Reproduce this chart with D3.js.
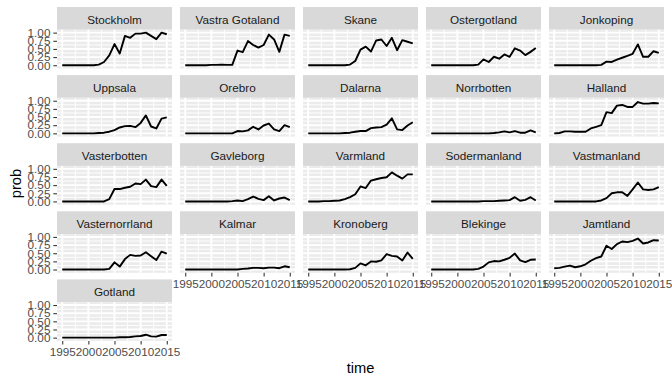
<!DOCTYPE html>
<html>
<head>
<meta charset="utf-8">
<script src="https://cdnjs.cloudflare.com/ajax/libs/d3/7.8.5/d3.min.js"></script>
<style>
  body { margin: 0; background: #fff; }
  svg text { font-family: "Liberation Sans", Arial, sans-serif; }
</style>
</head>
<body>
<svg id="chart" width="672" height="384"></svg>
<script>

// years on the x axis
var years = [1995, 1996, 1997, 1998, 1999, 2000, 2001, 2002, 2003, 2004, 2005,
             2006, 2007, 2008, 2009, 2010, 2011, 2012, 2013, 2014, 2015];

var regions = ["Stockholm", "Vastra Gotaland", "Skane", "Ostergotland", "Jonkoping",
               "Uppsala", "Orebro", "Dalarna", "Norrbotten", "Halland",
               "Vasterbotten", "Gavleborg", "Varmland", "Sodermanland", "Vastmanland",
               "Vasternorrland", "Kalmar", "Kronoberg", "Blekinge", "Jamtland",
               "Gotland"];

// prob per year
var stockholm      = [0, 0, 0, 0, 0, 0, 0, 0.02, 0.10, 0.30, 0.65, 0.36, 0.90, 0.84, 0.97, 0.97, 1.00, 0.90, 0.80, 1.00, 0.95];
var vastraGotaland = [0, 0, 0, 0, 0, 0.01, 0.01, 0.02, 0.01, 0.01, 0.45, 0.40, 0.74, 0.62, 0.54, 0.62, 0.94, 0.79, 0.41, 0.94, 0.90];
var skane          = [0, 0, 0, 0, 0, 0, 0, 0, 0.02, 0.13, 0.48, 0.57, 0.42, 0.76, 0.79, 0.59, 0.84, 0.46, 0.77, 0.72, 0.67];
var ostergotland   = [0, 0, 0, 0, 0, 0, 0, 0, 0, 0.02, 0.18, 0.10, 0.26, 0.20, 0.33, 0.26, 0.52, 0.45, 0.31, 0.41, 0.53];
var jonkoping      = [0, 0, 0, 0, 0, 0, 0, 0, 0, 0.01, 0.11, 0.10, 0.17, 0.23, 0.29, 0.35, 0.64, 0.26, 0.26, 0.43, 0.38];
var uppsala        = [0, 0, 0, 0, 0, 0, 0, 0.01, 0.02, 0.05, 0.10, 0.18, 0.22, 0.23, 0.19, 0.32, 0.55, 0.21, 0.15, 0.45, 0.49];
var orebro         = [0, 0, 0, 0, 0, 0, 0, 0, 0, 0, 0.07, 0.06, 0.09, 0.20, 0.12, 0.24, 0.30, 0.12, 0.07, 0.25, 0.19];
var dalarna        = [0, 0, 0, 0, 0, 0, 0, 0.01, 0.02, 0.05, 0.07, 0.07, 0.16, 0.18, 0.19, 0.27, 0.46, 0.12, 0.10, 0.24, 0.34];
var norrbotten     = [0, 0, 0, 0, 0, 0, 0, 0, 0, 0, 0, 0, 0.01, 0.03, 0.06, 0.03, 0.07, 0.02, 0.02, 0.09, 0.03];
var halland        = [0, 0.01, 0.06, 0.06, 0.05, 0.05, 0.05, 0.15, 0.20, 0.25, 0.65, 0.62, 0.85, 0.87, 0.81, 0.81, 0.96, 0.91, 0.91, 0.93, 0.92];
var vasterbotten   = [0, 0, 0, 0, 0, 0, 0, 0, 0, 0.07, 0.38, 0.38, 0.42, 0.45, 0.55, 0.53, 0.67, 0.47, 0.44, 0.67, 0.48];
var gavleborg      = [0, 0, 0, 0, 0, 0, 0, 0, 0, 0.01, 0.03, 0.01, 0.07, 0.15, 0.08, 0.04, 0.16, 0.03, 0.09, 0.12, 0.04];
var varmland       = [0, 0, 0, 0.01, 0.01, 0.02, 0.03, 0.07, 0.13, 0.22, 0.46, 0.41, 0.64, 0.68, 0.72, 0.74, 0.89, 0.79, 0.70, 0.83, 0.83];
var sodermanland   = [0, 0, 0, 0, 0, 0, 0, 0, 0, 0, 0.01, 0.01, 0.01, 0.02, 0.03, 0.04, 0.13, 0.02, 0.05, 0.13, 0.03];
var vastmanland    = [0, 0, 0, 0, 0, 0, 0, 0, 0, 0.03, 0.10, 0.25, 0.28, 0.28, 0.17, 0.37, 0.58, 0.37, 0.35, 0.37, 0.44];
var vasternorrland = [0, 0, 0, 0, 0, 0, 0, 0, 0, 0.02, 0.22, 0.09, 0.32, 0.45, 0.42, 0.43, 0.53, 0.41, 0.29, 0.55, 0.49];
var kalmar         = [0, 0, 0, 0, 0, 0, 0, 0, 0, 0, 0, 0.02, 0.03, 0.05, 0.05, 0.04, 0.06, 0.06, 0.04, 0.10, 0.07];
var kronoberg      = [0, 0, 0, 0, 0, 0, 0, 0, 0.01, 0.05, 0.19, 0.13, 0.25, 0.24, 0.28, 0.47, 0.42, 0.40, 0.28, 0.52, 0.33];
var blekinge       = [0, 0, 0, 0, 0, 0, 0, 0, 0, 0.02, 0.09, 0.22, 0.26, 0.25, 0.30, 0.36, 0.49, 0.28, 0.23, 0.30, 0.31];
var jamtland       = [0.04, 0.05, 0.09, 0.12, 0.07, 0.10, 0.16, 0.27, 0.35, 0.40, 0.73, 0.63, 0.78, 0.86, 0.84, 0.88, 0.95, 0.80, 0.83, 0.90, 0.89];
var gotland        = [0, 0, 0, 0, 0, 0, 0, 0, 0, 0, 0, 0.01, 0.01, 0.02, 0.04, 0.05, 0.09, 0.04, 0.03, 0.08, 0.08];

var seriesData = [stockholm, vastraGotaland, skane, ostergotland, jonkoping,
                  uppsala, orebro, dalarna, norrbotten, halland,
                  vasterbotten, gavleborg, varmland, sodermanland, vastmanland,
                  vasternorrland, kalmar, kronoberg, blekinge, jamtland,
                  gotland];

var xTicks = [1995, 2000, 2005, 2010, 2015];
var xMinor = [1997.5, 2002.5, 2007.5, 2012.5];
var yTicks = [0, 0.25, 0.5, 0.75, 1];
var yMinor = [0.125, 0.375, 0.625, 0.875];
var yTickLabels = ["0.00", "0.25", "0.50", "0.75", "1.00"];

// layout (px)
var nCols = 5;
var gridLeft = 57, gridTop = 7;
var panelW = 115, colStep = 123;
var stripH = 22.7, panelH = 38.8, rowStep = 68.1;

var x = d3.scaleLinear().domain([1994, 2016]).range([0, panelW]);
var y = d3.scaleLinear().domain([-0.1, 1.09]).range([panelH, 0]);

var svg = d3.select("#chart");

var line = d3.line()
    .x(function (d) { return x(d.year); })
    .y(function (d) { return y(d.prob); });

function drawPanel(name, values, i) {
    var col = i % nCols, row = Math.floor(i / nCols);
    var px = gridLeft + col * colStep, py = gridTop + row * rowStep;

    // strip
    svg.append("rect")
        .attr("x", px).attr("y", py)
        .attr("width", panelW).attr("height", stripH)
        .attr("fill", "#D9D9D9");
    svg.append("text")
        .attr("x", px + panelW / 2)
        .attr("y", py + 16.8)
        .attr("text-anchor", "middle")
        .attr("font-size", "11.73px")
        .attr("fill", "#1A1A1A")
        .text(name);

    var g = svg.append("g")
        .attr("transform", "translate(" + px + "," + (py + stripH) + ")");

    g.append("rect")
        .attr("width", panelW).attr("height", panelH)
        .attr("fill", "#EBEBEB");

    // minor grid
    g.selectAll("line.xmin").data(xMinor).enter().append("line")
        .attr("x1", x).attr("x2", x).attr("y1", 0).attr("y2", panelH)
        .attr("stroke", "#fff").attr("stroke-width", 0.95);
    g.selectAll("line.ymin").data(yMinor).enter().append("line")
        .attr("y1", y).attr("y2", y).attr("x1", 0).attr("x2", panelW)
        .attr("stroke", "#fff").attr("stroke-width", 0.95);
    // major grid
    g.selectAll("line.xmaj").data(xTicks).enter().append("line")
        .attr("x1", x).attr("x2", x).attr("y1", 0).attr("y2", panelH)
        .attr("stroke", "#fff").attr("stroke-width", 1.9);
    g.selectAll("line.ymaj").data(yTicks).enter().append("line")
        .attr("y1", y).attr("y2", y).attr("x1", 0).attr("x2", panelW)
        .attr("stroke", "#fff").attr("stroke-width", 1.9);

    var pts = years.map(function (yr, k) { return {year: yr, prob: values[k]}; });
    g.append("path")
        .datum(pts)
        .attr("d", line)
        .attr("fill", "none")
        .attr("stroke", "#000")
        .attr("stroke-width", 1.9)
        .attr("stroke-linejoin", "round");

    // y axis on the first column
    if (col === 0) {
        var ya = g.append("g").call(d3.axisLeft(y)
            .tickValues(yTicks)
            .tickFormat(function (d, k) { return yTickLabels[k]; })
            .tickSize(3.67)
            .tickPadding(2.93));
        styleAxis(ya);
    }
    // x axis where no panel sits below
    if (i + nCols >= regions.length) {
        var xa = g.append("g")
            .attr("transform", "translate(0," + panelH + ")")
            .call(d3.axisBottom(x)
                .tickValues(xTicks)
                .tickFormat(d3.format("d"))
                .tickSize(3.67)
                .tickPadding(2.93));
        styleAxis(xa);
    }
}

function styleAxis(a) {
    a.select(".domain").remove();
    a.selectAll(".tick line").attr("stroke", "#333333").attr("stroke-width", 1.07);
    a.selectAll(".tick text")
        .attr("fill", "#4D4D4D")
        .attr("font-size", "11.73px")
        .attr("font-family", "\"Liberation Sans\", Arial, sans-serif");
}

regions.forEach(function (name, i) {
    drawPanel(name, seriesData[i], i);
});

// axis titles
svg.append("text")
    .attr("x", 360.5).attr("y", 372.5)
    .attr("text-anchor", "middle")
    .attr("font-size", "14.67px")
    .attr("fill", "#000")
    .text("time");

svg.append("text")
    .attr("transform", "translate(20.5,183.5) rotate(-90)")
    .attr("text-anchor", "middle")
    .attr("font-size", "14.67px")
    .attr("fill", "#000")
    .text("prob");

</script>
</body>
</html>
